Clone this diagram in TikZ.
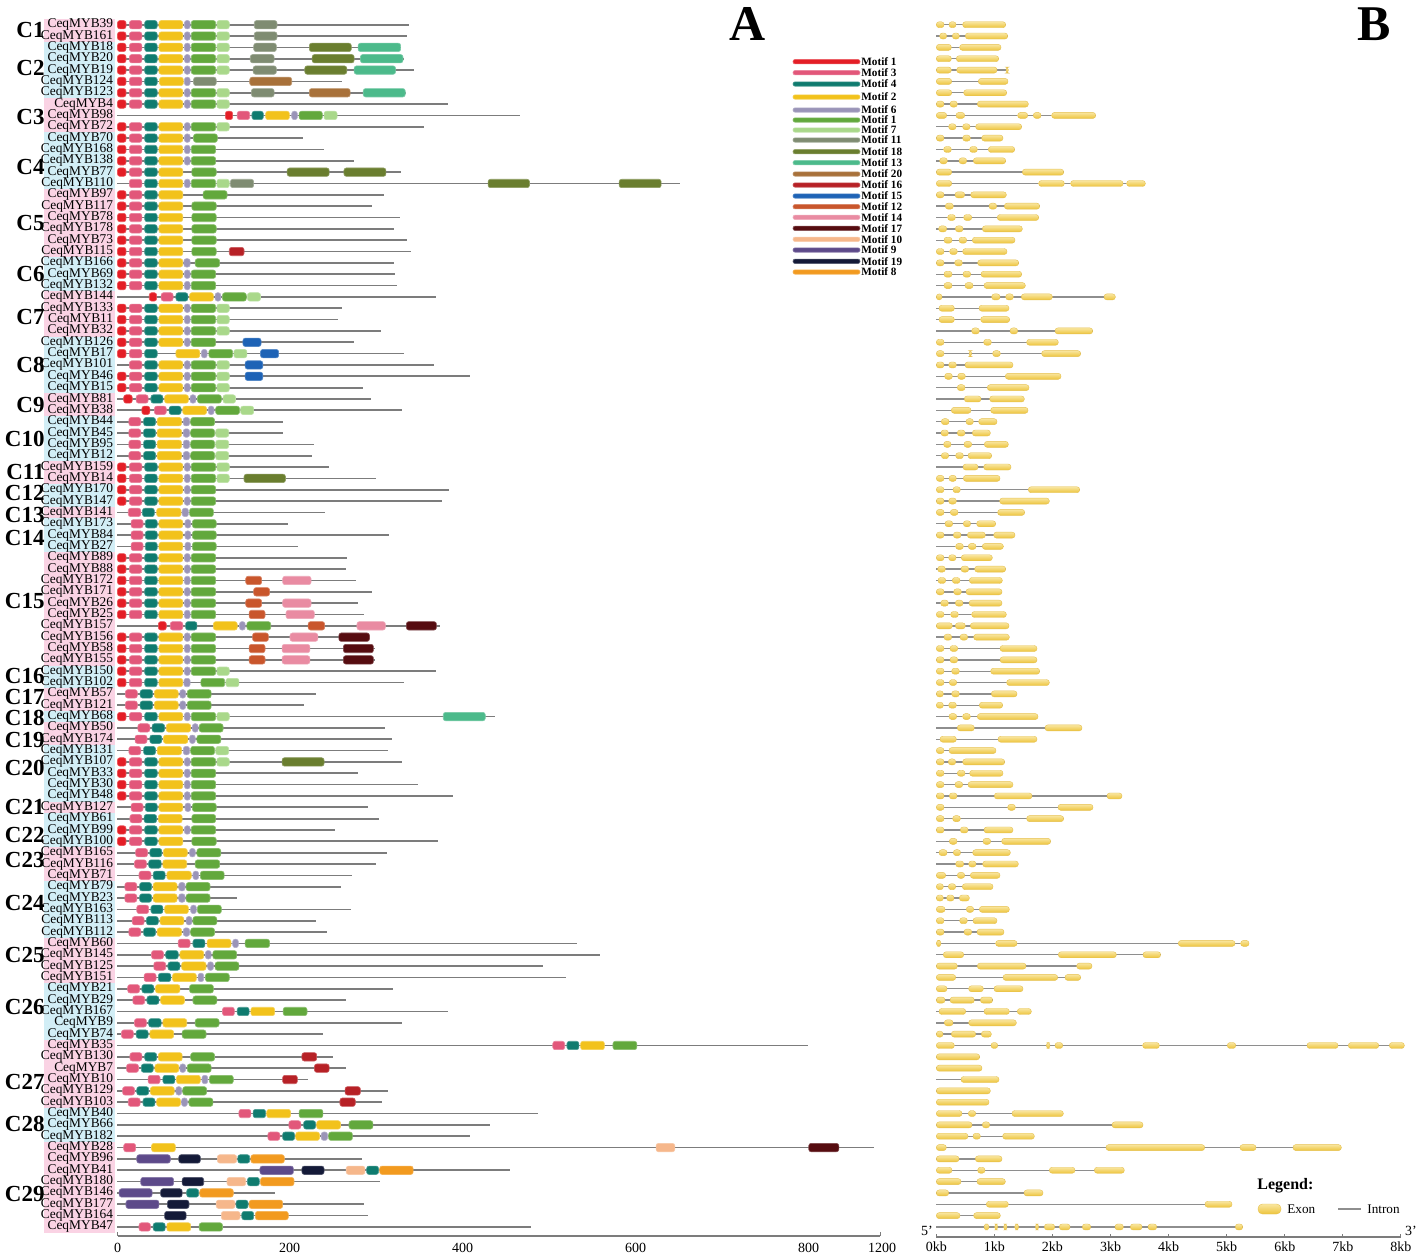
\documentclass[tikz,border=0pt]{standalone}
\usepackage{fontspec}
\setmainfont{Liberation Serif}
\definecolor{mo1}{HTML}{E41E26}
\definecolor{mo3}{HTML}{E2577A}
\definecolor{mo4}{HTML}{0F7B6F}
\definecolor{mo2}{HTML}{F2C21B}
\definecolor{mo6}{HTML}{9A94B8}
\definecolor{mo5}{HTML}{62A83C}
\definecolor{mo7}{HTML}{A9D88A}
\definecolor{mo11}{HTML}{7F8C72}
\definecolor{mo18}{HTML}{6A7E2F}
\definecolor{mo13}{HTML}{4CBA8B}
\definecolor{mo20}{HTML}{A8713A}
\definecolor{mo16}{HTML}{B72126}
\definecolor{mo15}{HTML}{1E63B6}
\definecolor{mo12}{HTML}{C9562C}
\definecolor{mo14}{HTML}{E98BA2}
\definecolor{mo17}{HTML}{560C10}
\definecolor{mo10}{HTML}{F6B78B}
\definecolor{mo9}{HTML}{5D4A8A}
\definecolor{mo19}{HTML}{141A38}
\definecolor{mo8}{HTML}{F29A1F}
\definecolor{bpink}{HTML}{FAD3E4}
\definecolor{bblue}{HTML}{D2EEF6}
\definecolor{glinec}{HTML}{7C7C7C}
\definecolor{ilinec}{HTML}{8E8E8E}
\definecolor{exT}{HTML}{F9E6A0}
\definecolor{exB}{HTML}{EDC43C}
\definecolor{exE}{HTML}{E6C04E}
\def\Sfull{mo1/207/222,mo3/228/250,mo4/255/277,mo2/280/322,mo6/325/335,mo5/337/380,mo7/382/404}
\def\Sg{mo1/207/222,mo3/228/250,mo4/255/277,mo2/280/322,mo6/325/335,mo5/337/380}
\def\Sgl{mo1/207/222,mo3/228/250,mo4/255/277,mo2/280/322,mo5/338/381}
\def\Sp{mo3/227/248,mo4/253/274,mo2/277/320,mo6/323/334,mo5/336/378}
\def\Sq{mo3/231/252,mo4/256/277,mo2/280/322,mo6/326/336,mo5/339/381}
\def\Sr{mo3/221/242,mo4/247/269,mo2/272/314,mo6/317/327,mo5/330/372}
\def\St{mo3/220/241,mo4/246/267,mo2/270/312,mo6/315/326,mo5/328/370}
\newcommand\RA[4]{%
  \pgfmathsetmacro\yy{24.7+(#1-1)*11.342}%
  \node[glabel] (a#1) at (113.5,\yy) {#2};%
  \draw[gline] ({207/1.762},\yy) -- ({#3/1.762},\yy);%
  \edef\mlist{#4}%
  \foreach \mc/\ma/\mb in \mlist {\draw[motif,fill=\mc,draw=\mc!75!white] ({\ma/1.762},\yy-4.2) rectangle ({\mb/1.762},\yy+4.2);}%
}
\newcommand\RB[3]{%
  \pgfmathsetmacro\yy{24.7+(#1-1)*11.342}%
  \draw[iline] ({920+49/3},\yy) -- ({920+#2/3},\yy);%
  \foreach \ma/\mb in {#3} {\shadedraw[exon] ({920+\ma/3},\yy-3) rectangle ({920+\mb/3},\yy+3);}%
}
\newcommand\band[3]{\fill[#3] (44.3,{24.7+(#1-1)*11.342-5.67}) rectangle (114.6,{24.7+(#2-1)*11.342+5.67});}
\begin{document}
\begin{tikzpicture}[x=0.5pt,y=-0.5pt,
  glabel/.style={anchor=east,inner sep=0pt,font=\fontsize{6.7}{7}\selectfont},
  clabel/.style={anchor=east,inner sep=0pt,font=\fontsize{11.5}{11.5}\selectfont\bfseries},
  gline/.style={draw=glinec,line width=0.85pt},
  iline/.style={draw=ilinec,line width=0.7pt},
  motif/.style={rounded corners=1.2pt,line width=0.3pt},
  exon/.style={top color=exT,bottom color=exB,draw=exE,line width=0.2pt,rounded corners=1.4pt},
  lgtext/.style={anchor=west,inner sep=0pt,font=\fontsize{5.6}{6}\selectfont\bfseries},
  ticklab/.style={inner sep=0pt,font=\fontsize{7}{7}\selectfont},
  axis/.style={draw=glinec,line width=0.8pt}]
\useasboundingbox (0,0) rectangle (1418,1253);
\fill[white] (0,0) rectangle (1418,1253);
% cluster bands
\band{1}{2}{bpink}\band{3}{7}{bblue}\band{8}{10}{bpink}\band{11}{15}{bblue}
\band{16}{21}{bpink}\band{22}{24}{bblue}\band{25}{28}{bpink}\band{29}{33}{bblue}
\band{34}{35}{bpink}\band{36}{39}{bblue}\band{40}{41}{bpink}\band{42}{43}{bblue}
\band{44}{44}{bpink}\band{45}{47}{bblue}\band{48}{57}{bpink}\band{58}{59}{bblue}
\band{60}{61}{bpink}\band{62}{62}{bblue}\band{63}{64}{bpink}\band{65}{69}{bblue}
\band{70}{70}{bpink}\band{71}{73}{bblue}\band{74}{76}{bpink}\band{77}{81}{bblue}
\band{82}{85}{bpink}\band{86}{90}{bblue}\band{91}{96}{bpink}\band{97}{99}{bblue}
\band{100}{107}{bpink}
% cluster labels
\foreach \t/\y [count=\i] in {C1/30.4,C2/68,C3/117,C4/167,C5/223,C6/274,C7/317,C8/365,C9/405,C10/439,C11/471.5,C12/493,C13/515,C14/537.5,C15/600.7,C16/675.5,C17/696.5,C18/718,C19/739.5,C20/767.7,C21/807.3,C22/834.7,C23/859.7,C24/903,C25/955,C26/1006.7,C27/1082,C28/1123.7,C29/1193.7}
  {\node[clabel] (cl\i) at (45,\y) {\t};}
% panel letters
\node[font=\fontsize{25}{25}\selectfont\bfseries,inner sep=0pt] (lA) at (748,24) {A};
\node[font=\fontsize{25}{25}\selectfont\bfseries,inner sep=0pt] (lB) at (1374,24) {B};
% panel A rows
\RA{1}{CeqMYB39}{720}{\Sfull,mo11/448/488}
\RA{2}{CeqMYB161}{717}{\Sfull,mo11/448/488}
\RA{3}{CeqMYB18}{707}{\Sfull,mo11/447/487,mo18/545/619,mo13/631/706}
\RA{4}{CeqMYB20}{712}{\Sfull,mo11/441/483,mo18/550/624,mo13/635/710}
\RA{5}{CeqMYB19}{730}{\Sfull,mo11/446/487,mo18/537/611,mo13/624/697}
\RA{6}{CeqMYB124}{603}{mo1/207/222,mo3/228/250,mo4/255/277,mo2/281/323,mo6/325/335,mo11/341/381,mo20/440/514}
\RA{7}{CeqMYB123}{716}{\Sfull,mo11/443/483,mo20/545/617,mo13/640/714}
\RA{8}{CeqMYB4}{790}{\Sfull}
\RA{9}{CeqMYB98}{916}{mo1/397/410,mo3/418/440,mo4/444/464,mo2/468/510,mo6/514/524,mo5/527/568,mo7/571/594}
\RA{10}{CeqMYB72}{747}{\Sfull}
\RA{11}{CeqMYB70}{534}{mo1/207/222,mo3/228/250,mo4/255/277,mo2/280/322,mo6/325/335,mo5/341/383}
\RA{12}{CeqMYB168}{571}{\Sg}
\RA{13}{CeqMYB138}{623}{\Sg}
\RA{14}{CeqMYB77}{707}{\Sgl,mo18/506/580,mo18/606/680}
\RA{15}{CeqMYB110}{1199}{mo3/228/250,mo4/255/277,mo2/280/322,mo6/325/335,mo5/337/380,mo7/382/404,mo11/406/447,mo18/860/933,mo18/1091/1165}
\RA{16}{CeqMYB97}{676}{mo1/207/222,mo3/228/250,mo4/255/277,mo2/280/322,mo5/358/400}
\RA{17}{CeqMYB117}{656}{\Sgl}
\RA{18}{CeqMYB78}{705}{\Sgl}
\RA{19}{CeqMYB178}{694}{\Sgl}
\RA{20}{CeqMYB73}{718}{\Sgl}
\RA{21}{CeqMYB115}{725}{\Sgl,mo16/404/430}
\RA{22}{CeqMYB166}{694}{mo1/207/222,mo3/228/250,mo4/255/277,mo2/280/322,mo6/324/335,mo5/344/387}
\RA{23}{CeqMYB69}{696}{\Sg}
\RA{24}{CeqMYB132}{700}{\Sg}
\RA{25}{CeqMYB144}{769}{mo1/263/276,mo3/284/305,mo4/310/331,mo2/334/376,mo6/379/389,mo5/392/434,mo7/436/459}
\RA{26}{CeqMYB133}{603}{\Sfull}
\RA{27}{CeqMYB11}{595}{\Sfull}
\RA{28}{CeqMYB32}{671}{\Sfull}
\RA{29}{CeqMYB126}{623}{\Sg,mo15/428/460}
\RA{30}{CeqMYB17}{711}{mo1/207/222,mo3/228/250,mo4/255/277,mo2/310/352,mo6/355/365,mo5/368/410,mo7/412/435,mo15/459/491}
\RA{31}{CeqMYB101}{764}{mo3/228/250,mo4/255/277,mo2/280/322,mo6/325/335,mo5/337/380,mo7/382/404,mo15/432/463}
\RA{32}{CeqMYB46}{828}{\Sfull,mo15/432/463}
\RA{33}{CeqMYB15}{639}{\Sfull}
\RA{34}{CeqMYB81}{654}{mo1/218/233,mo3/240/261,mo4/266/287,mo2/290/332,mo6/335/345,mo5/348/390,mo7/393/415}
\RA{35}{CeqMYB38}{708}{mo1/250/264,mo3/272/293,mo4/298/319,mo2/322/364,mo6/367/377,mo5/380/422,mo7/424/447}
\RA{36}{CeqMYB44}{499}{\Sp}
\RA{37}{CeqMYB45}{499}{\Sp,mo7/380/403}
\RA{38}{CeqMYB95}{553}{\Sp,mo7/380/403}
\RA{39}{CeqMYB12}{549}{\Sp,mo7/380/403}
\RA{40}{CeqMYB159}{580}{\Sfull}
\RA{41}{CeqMYB14}{662}{\Sfull,mo18/430/503}
\RA{42}{CeqMYB170}{792}{\Sg}
\RA{43}{CeqMYB147}{778}{\Sg}
\RA{44}{CeqMYB141}{573}{mo3/226/248,mo4/251/272,mo2/276/319,mo6/321/332,mo5/334/376}
\RA{45}{CeqMYB173}{507}{\Sq}
\RA{46}{CeqMYB84}{686}{\Sq}
\RA{47}{CeqMYB27}{525}{\Sq}
\RA{48}{CeqMYB89}{612}{\Sg}
\RA{49}{CeqMYB88}{610}{\Sg}
\RA{50}{CeqMYB172}{627}{\Sg,mo12/433/461,mo14/498/548}
\RA{51}{CeqMYB171}{656}{\Sg,mo12/447/475}
\RA{52}{CeqMYB26}{631}{\Sg,mo12/433/461,mo14/498/548}
\RA{53}{CeqMYB25}{641}{\Sg,mo12/439/467,mo14/504/554}
\RA{54}{CeqMYB157}{775}{mo1/279/293,mo3/300/322,mo4/327/347,mo2/376/418,mo6/422/432,mo5/435/477,mo12/543/572,mo14/629/679,mo17/716/769}
\RA{55}{CeqMYB156}{651}{\Sg,mo12/445/473,mo14/511/560,mo17/597/651}
\RA{56}{CeqMYB58}{660}{\Sg,mo12/439/467,mo14/497/546,mo17/605/658}
\RA{57}{CeqMYB155}{660}{\Sg,mo12/439/467,mo14/497/546,mo17/605/658}
\RA{58}{CeqMYB150}{769}{\Sfull}
\RA{59}{CeqMYB102}{711}{mo1/207/222,mo3/228/250,mo4/255/277,mo2/280/322,mo6/324/335,mo5/354/396,mo7/398/421}
\RA{60}{CeqMYB57}{557}{\Sr}
\RA{61}{CeqMYB121}{536}{\Sr}
\RA{62}{CeqMYB68}{872}{\Sfull,mo13/781/855}
\RA{63}{CeqMYB50}{679}{mo3/243/264,mo4/268/290,mo2/293/336,mo6/339/349,mo5/351/393}
\RA{64}{CeqMYB174}{690}{mo3/238/259,mo4/264/285,mo2/288/331,mo6/334/344,mo5/347/389}
\RA{65}{CeqMYB131}{684}{\Sp,mo7/380/403}
\RA{66}{CeqMYB107}{708}{\Sfull,mo18/497/571}
\RA{67}{CeqMYB33}{631}{\Sg}
\RA{68}{CeqMYB30}{737}{\Sg}
\RA{69}{CeqMYB48}{798}{\Sg}
\RA{70}{CeqMYB127}{649}{\Sq}
\RA{71}{CeqMYB61}{667}{mo3/229/250,mo4/254/276,mo2/279/321,mo5/338/380}
\RA{72}{CeqMYB99}{591}{\Sg}
\RA{73}{CeqMYB100}{771}{\Sgl}
\RA{74}{CeqMYB165}{682}{mo3/239/260,mo4/264/285,mo2/288/330,mo6/334/344,mo5/347/389}
\RA{75}{CeqMYB116}{663}{mo3/237/258,mo4/262/284,mo2/287/329,mo5/344/387}
\RA{76}{CeqMYB71}{620}{mo3/245/266,mo4/270/291,mo2/294/337,mo6/340/350,mo5/353/395}
\RA{77}{CeqMYB79}{600}{\St}
\RA{78}{CeqMYB23}{418}{\St}
\RA{79}{CeqMYB163}{618}{mo3/241/262,mo4/266/287,mo2/290/332,mo6/336/346,mo5/348/390}
\RA{80}{CeqMYB113}{556}{mo3/233/254,mo4/258/279,mo2/282/324,mo6/328/338,mo5/340/382}
\RA{81}{CeqMYB112}{577}{\Sp}
\RA{82}{CeqMYB60}{1016}{mo3/314/335,mo4/340/361,mo2/365/407,mo6/410/420,mo5/432/475}
\RA{83}{CeqMYB145}{1058}{mo3/267/288,mo4/292/314,mo2/317/359,mo6/362/372,mo5/375/417}
\RA{84}{CeqMYB125}{957}{mo3/271/292,mo4/296/317,mo2/320/363,mo6/366/376,mo5/379/421}
\RA{85}{CeqMYB151}{998}{mo3/254/275,mo4/279/301,mo2/304/346,mo6/349/359,mo5/362/404}
\RA{86}{CeqMYB21}{692}{mo3/225/246,mo4/250/271,mo2/274/317,mo5/334/376}
\RA{87}{CeqMYB29}{610}{mo3/234/255,mo4/259/280,mo2/283/325,mo5/340/382}
\RA{88}{CeqMYB167}{790}{mo3/392/413,mo4/418/439,mo2/442/484,mo5/499/541}
\RA{89}{CeqMYB9}{709}{mo3/237/258,mo4/262/284,mo2/287/329,mo5/344/386}
\RA{90}{CeqMYB74}{569}{mo3/214/235,mo4/240/261,mo2/264/306,mo5/321/363}
\RA{91}{CeqMYB35}{1424}{mo3/974/995,mo4/999/1020,mo2/1023/1065,mo5/1080/1122}
\RA{92}{CeqMYB130}{587}{mo3/229/250,mo4/255/276,mo2/279/321,mo5/336/378,mo16/532/558}
\RA{93}{CeqMYB7}{610}{mo3/223/244,mo4/249/270,mo2/273/315,mo6/317/327,mo5/330/372,mo16/554/580}
\RA{94}{CeqMYB10}{542}{mo3/261/282,mo4/287/308,mo2/311/353,mo6/356/366,mo5/369/411,mo16/498/524}
\RA{95}{CeqMYB129}{683}{mo3/216/237,mo4/241/262,mo2/265/307,mo6/310/320,mo5/322/364,mo16/608/635}
\RA{96}{CeqMYB103}{673}{mo3/226/247,mo4/252/273,mo2/276/318,mo6/320/330,mo5/333/375,mo16/599/626}
\RA{97}{CeqMYB40}{948}{mo3/421/442,mo4/446/468,mo2/470/512,mo5/527/569}
\RA{98}{CeqMYB66}{864}{mo3/509/530,mo4/535/556,mo2/558/600,mo5/615/657}
\RA{99}{CeqMYB182}{828}{mo3/472/493,mo4/498/519,mo2/521/563,mo6/566/577,mo5/579/621}
\RA{100}{CeqMYB28}{1540}{mo3/218/239,mo2/267/309,mo10/1156/1189,mo17/1425/1478}
\RA{101}{CeqMYB96}{638}{mo9/241/300,mo19/315/353,mo10/383/417,mo4/419/440,mo8/442/501}
\RA{102}{CeqMYB41}{898}{mo9/458/517,mo19/532/571,mo10/610/643,mo4/646/667,mo8/669/728}
\RA{103}{CeqMYB180}{669}{mo9/248/306,mo19/321/359,mo10/400/433,mo4/436/457,mo8/459/518}
\RA{104}{CeqMYB146}{485}{mo9/210/268,mo19/283/321,mo4/329/350,mo8/352/411}
\RA{105}{CeqMYB177}{642}{mo9/222/280,mo19/295/333,mo10/381/414,mo4/416/437,mo8/439/498}
\RA{106}{CeqMYB164}{648}{mo19/290/328,mo10/390/423,mo4/426/447,mo8/450/508}
\RA{107}{CeqMYB47}{935}{mo3/245/265,mo4/270/291,mo2/294/336,mo5/351/392}
% axis A
\coordinate (ax0) at (117.5,1236);
\coordinate (ax1) at (880,1236);
\draw[axis] (ax0) -- (ax1);
\draw[axis,line width=0.5pt] (117.5,1232) -- (117.5,1236) (880,1232) -- (880,1236);
\foreach \v/\x [count=\i] in {0/117.5,200/289.5,400/462.5,600/635.6,800/808.7,1200/882}
  {\node[ticklab] (ta\i) at (\x,1248) {\v};}
% legend A
\foreach \col/\txt/\y [count=\i] in {mo1/Motif 1/61.7,mo3/Motif 3/72.7,mo4/Motif 4/84,mo2/Motif 2/97,mo6/Motif 6/110,mo5/Motif 1/120,mo7/Motif 7/130,mo11/Motif 11/140,mo18/Motif 18/151.7,mo13/Motif 13/162.7,mo20/Motif 20/174,mo16/Motif 16/185,mo15/Motif 15/196,mo12/Motif 12/206.7,mo14/Motif 14/217.3,mo17/Motif 17/228.3,mo10/Motif 10/239.3,mo9/Motif 9/250,mo19/Motif 19/261.3,mo8/Motif 8/272}
  {\draw[fill=\col,draw=\col!70!white,line width=0.3pt,rounded corners=1pt] (793,\y-2.2) rectangle (860,\y+2.2);
   \node[lgtext] (lg\i) at (861,\y) {\txt};}
% panel B rows
\RB{1}{257}{49/72,87/108,128/257}
\RB{2}{263}{59/80,97/118,136/263}
\RB{3}{243}{49/94,119/243}
\RB{4}{236}{49/94,109/236}
\RB{5}{265}{49/94,110/231,258/265}
\RB{6}{264}{49/95,175/264}
\RB{7}{260}{49/95,131/260}
\RB{8}{325}{49/72,90/112,172/325}
\RB{9}{527}{49/80,108/134,293/323,340/363,395/527}
\RB{10}{305}{86/108,128/150,167/305}
\RB{11}{249}{49/72,128/151,185/249}
\RB{12}{284}{71/94,149/172,205/284}
\RB{13}{257}{59/82,117/140,160/257}
\RB{14}{431}{49/95,307/431}
\RB{15}{676}{49/95,356/433,452/609,620/676}
\RB{16}{259}{49/72,105/134,152/259}
\RB{17}{359}{76/100,207/230,253/359}
\RB{18}{356}{83/106,131/155,232/356}
\RB{19}{307}{56/80,106/129,187/307}
\RB{20}{285}{72/96,117/140,157/285}
\RB{21}{261}{49/72,89/112,128/261}
\RB{22}{296}{49/72,104/127,173/296}
\RB{23}{305}{72/96,129/152,183/305}
\RB{24}{316}{72/96,135/159,192/316}
\RB{25}{586}{49/66,215/240,257/280,304/397,552/586}
\RB{26}{267}{57/103,177/267}
\RB{27}{269}{57/103,182/269}
\RB{28}{518}{155/178,270/293,405/518}
\RB{29}{415}{49/72,191/214,320/415}
\RB{30}{482}{49/72,147/155,218/241,365/482}
\RB{31}{279}{49/72,86/109,135/279}
\RB{32}{423}{74/97,113/136,256/423}
\RB{33}{327}{112/135,202/327}
\RB{34}{313}{133/183,209/313}
\RB{35}{324}{94/153,212/324}
\RB{36}{231}{64/87,138/160,176/231}
\RB{37}{211}{63/85,112/135,157/211}
\RB{38}{265}{71/93,132/155,193/265}
\RB{39}{215}{64/86,107/130,144/215}
\RB{40}{273}{129/174,191/273}
\RB{41}{240}{49/72,87/109,130/240}
\RB{42}{479}{49/72,99/121,325/479}
\RB{43}{388}{49/72,86/109,239/388}
\RB{44}{314}{49/72,91/114,233/314}
\RB{45}{227}{75/98,130/152,170/227}
\RB{46}{285}{49/72,100/123,142/196,221/285}
\RB{47}{250}{107/130,145/168,187/250}
\RB{48}{217}{49/72,86/108,124/217}
\RB{49}{257}{53/76,123/146,164/257}
\RB{50}{247}{54/77,97/120,148/247}
\RB{51}{246}{49/72,101/124,138/246}
\RB{52}{246}{62/85,106/129,147/246}
\RB{53}{259}{49/72,92/115,155/259}
\RB{54}{267}{49/97,106/136,151/267}
\RB{55}{268}{72/95,120/143,161/268}
\RB{56}{351}{49/72,90/113,240/351}
\RB{57}{351}{49/72,90/113,240/351}
\RB{58}{359}{49/72,95/118,212/359}
\RB{59}{388}{49/72,88/110,260/388}
\RB{60}{291}{49/70,95/118,214/291}
\RB{61}{248}{49/70,86/109,178/248}
\RB{62}{354}{87/110,128/151,172/354}
\RB{63}{486}{112/163,375/486}
\RB{64}{351}{60/109,234/351}
\RB{65}{228}{49/72,87/228}
\RB{66}{254}{49/72,85/107,128/254}
\RB{67}{249}{49/72,112/135,149/249}
\RB{68}{279}{49/72,105/128,144/279}
\RB{69}{606}{49/72,88/111,223/336,561/606}
\RB{70}{519}{49/72,263/286,414/519}
\RB{71}{431}{49/72,98/121,320/431}
\RB{72}{279}{49/72,121/144,192/279}
\RB{73}{392}{88/111,189/212,245/392}
\RB{74}{271}{57/81,100/122,158/271}
\RB{75}{295}{107/131,146/168,188/295}
\RB{76}{240}{49/77,112/134,151/240}
\RB{77}{219}{49/70,85/107,127/219}
\RB{78}{148}{49/70,80/102,118/148}
\RB{79}{268}{49/75,139/161,178/268}
\RB{80}{231}{49/72,119/142,159/231}
\RB{81}{252}{49/72,132/155,171/252}
\RB{82}{987}{49/63,227/291,775/945,962/987}
\RB{83}{722}{70/131,415/589,669/722}
\RB{84}{516}{49/112,172/318,470/516}
\RB{85}{482}{49/107,249/413,435/482}
\RB{86}{309}{49/81,146/190,222/309}
\RB{87}{218}{49/75,90/163,181/218}
\RB{88}{334}{57/137,192/268,292/334}
\RB{89}{289}{73/99,146/289}
\RB{90}{214}{49/69,94/167,184/214}
\RB{91}{1453}{49/103,213/233,379/390,405/428,668/718,922/947,1161/1254,1285/1376,1408/1453}
\RB{92}{179}{49/179}
\RB{93}{186}{49/186}
\RB{94}{237}{123/237}
\RB{95}{211}{49/211}
\RB{96}{207}{49/207}
\RB{97}{430}{49/126,145/167,276/430}
\RB{98}{669}{49/156,187/209,576/669}
\RB{99}{343}{49/144,159/181,248/343}
\RB{100}{1264}{49/79,558/854,960/1008,1119/1264}
\RB{101}{246}{49/117,166/246}
\RB{102}{613}{49/96,173/195,388/465,523/613}
\RB{103}{256}{49/123,171/256}
\RB{104}{369}{49/86,312/369}
\RB{105}{936}{199/265,855/936}
\RB{106}{241}{49/120,161/241}
\RB{107}{968}{192/207,224/233,251/261,284/296,346/356,373/404,418/450,487/512,585/610,631/666,684/710,946/968}
% axis B
\coordinate (bx0) at (936.3,1237);
\coordinate (bx1) at (1401,1237);
\draw[axis] (bx0) -- (bx1);
\foreach \k [count=\i] in {0,...,8}
  {\draw[axis,line width=0.5pt] ({936.3+\k*58.08},1237) -- ({936.3+\k*58.08},1234);
   \node[ticklab] (tb\i) at ({936.3+\k*58.08},1246.5) {\k kb};}
\node[ticklab] (p5) at (927,1231) {5’};
\node[ticklab] (p3) at (1411,1231) {3’};
% legend B
\node[anchor=west,inner sep=0pt,font=\fontsize{8}{8}\selectfont\bfseries] (lgB) at (1257,1186) {Legend:};
\shadedraw[exon,rounded corners=2.2pt] (1258,1204) rectangle (1281,1214);
\node[anchor=west,inner sep=0pt,font=\fontsize{6.6}{7}\selectfont] (lgE) at (1287,1209) {Exon};
\draw[iline,line width=1pt] (1338,1209) -- (1361,1209);
\node[anchor=west,inner sep=0pt,font=\fontsize{6.6}{7}\selectfont] (lgI) at (1367,1209) {Intron};
\end{tikzpicture}
\end{document}
